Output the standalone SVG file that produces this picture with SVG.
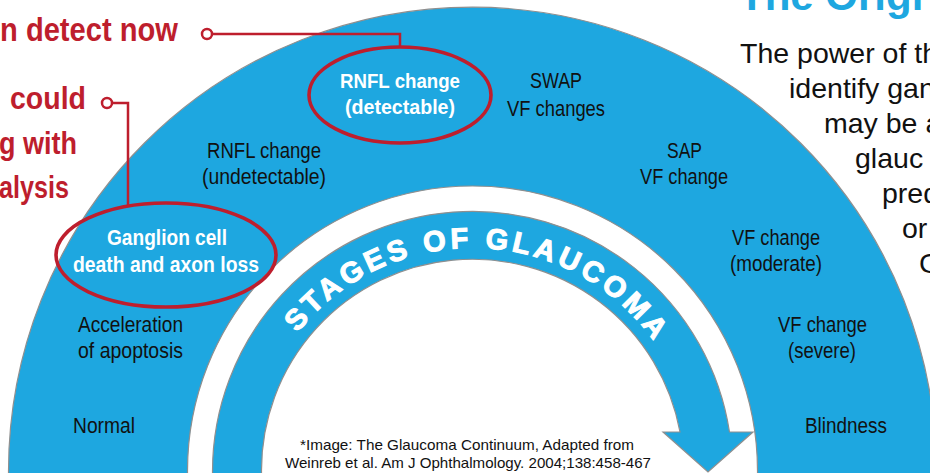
<svg xmlns="http://www.w3.org/2000/svg" width="930" height="473" viewBox="0 0 930 473">
<style>
.band{fill:#1ea7e0;stroke:#8f8f8f;stroke-width:1.2}
.blk{font-family:"Liberation Sans",Arial,sans-serif;font-size:22px;fill:#111;text-anchor:middle}
.wht{font-family:"Liberation Sans",Arial,sans-serif;font-weight:bold;font-size:22px;fill:#fff;text-anchor:middle}
.red{font-family:"Liberation Sans",Arial,sans-serif;font-weight:bold;font-size:32px;fill:#be1e2d;text-anchor:end}
.ell{fill:none;stroke:#be1e2d;stroke-width:3.6}
.conn{fill:none;stroke:#be1e2d;stroke-width:2.5}
.dot{fill:#fff;stroke:#be1e2d;stroke-width:2.5}
.note{font-family:"Liberation Sans",Arial,sans-serif;font-size:15px;fill:#111;text-anchor:middle}
.para{font-family:"Liberation Sans",Arial,sans-serif;font-size:28.5px;fill:#111}
.stg{font-family:"Liberation Sans",Arial,sans-serif;font-weight:bold;font-size:29px;fill:#fff;stroke:#fff;stroke-width:1.1;letter-spacing:4px}
</style>
<defs>
<path id="stgPath" d="M 249.5,471 A 223 223 0 0 1 695.5,471"/>
</defs>

<g id="outer-band">
<path d="M 8.5,480 L 8.5,471 A 464 464 0 0 1 936.5,471 L 936.5,480 L 757.5,480 L 757.5,471 A 285 285 0 0 0 187.5,471 L 187.5,480 Z" fill="#1ea7e0"/>
<path d="M 8.5,480 L 8.5,471 A 464 464 0 0 1 936.5,471 M 757.5,480 L 757.5,471 A 285 285 0 0 0 187.5,471 L 187.5,480" fill="none" stroke="#8f8f8f" stroke-width="1.2"/>
</g>

<g id="stages-arrow">
<path class="band" d="M 212.5,480 L 212.5,471 A 260 260 0 0 1 729.5,432 L 753,432 L 708,472 L 663,432 L 680,432 A 211 211 0 0 0 261.5,471 L 261.5,480 Z"/>
<text class="stg"><textPath href="#stgPath" startOffset="357" text-anchor="middle">STAGES OF GLAUCOMA</textPath></text>
</g>

<g id="connectors">
<circle class="dot" cx="207" cy="34" r="5"/>
<polyline class="conn" points="212,34 400,34 400,46"/>
<circle class="dot" cx="107" cy="103" r="5"/>
<polyline class="conn" points="112,103 128,103 128,205"/>
</g>

<g id="node-normal"><text class="blk" x="104" y="433" textLength="62" lengthAdjust="spacingAndGlyphs">Normal</text></g>
<g id="node-apoptosis">
<text class="blk" x="130.5" y="332" textLength="105" lengthAdjust="spacingAndGlyphs">Acceleration</text>
<text class="blk" x="130.5" y="358" textLength="105" lengthAdjust="spacingAndGlyphs">of apoptosis</text>
</g>
<g id="node-ganglion">
<ellipse class="ell" cx="166" cy="255" rx="110" ry="52"/>
<text class="wht" x="167" y="245" textLength="120" lengthAdjust="spacingAndGlyphs">Ganglion cell</text>
<text class="wht" x="166" y="272" textLength="186" lengthAdjust="spacingAndGlyphs">death and axon loss</text>
</g>
<g id="node-rnfl-undetectable">
<text class="blk" x="264" y="158" textLength="114" lengthAdjust="spacingAndGlyphs">RNFL change</text>
<text class="blk" x="264" y="184" textLength="124" lengthAdjust="spacingAndGlyphs">(undetectable)</text>
</g>
<g id="node-rnfl-detectable">
<ellipse class="ell" cx="400" cy="95" rx="91" ry="48"/>
<text class="wht" style="font-size:21px" x="400" y="88" textLength="120" lengthAdjust="spacingAndGlyphs">RNFL change</text>
<text class="wht" style="font-size:21px" x="400" y="114" textLength="110" lengthAdjust="spacingAndGlyphs">(detectable)</text>
</g>
<g id="node-swap">
<text class="blk" x="556" y="88" textLength="52" lengthAdjust="spacingAndGlyphs">SWAP</text>
<text class="blk" x="556" y="116" textLength="98" lengthAdjust="spacingAndGlyphs">VF changes</text>
</g>
<g id="node-sap">
<text class="blk" x="684.5" y="158" textLength="35" lengthAdjust="spacingAndGlyphs">SAP</text>
<text class="blk" x="684" y="184" textLength="88" lengthAdjust="spacingAndGlyphs">VF change</text>
</g>
<g id="node-moderate">
<text class="blk" x="776" y="245" textLength="88" lengthAdjust="spacingAndGlyphs">VF change</text>
<text class="blk" x="776" y="271" textLength="92" lengthAdjust="spacingAndGlyphs">(moderate)</text>
</g>
<g id="node-severe">
<text class="blk" x="822.5" y="332" textLength="89" lengthAdjust="spacingAndGlyphs">VF change</text>
<text class="blk" x="822" y="358" textLength="68" lengthAdjust="spacingAndGlyphs">(severe)</text>
</g>
<g id="node-blindness"><text class="blk" x="846" y="433" textLength="82" lengthAdjust="spacingAndGlyphs">Blindness</text></g>

<g id="callout-now"><text class="red" style="font-size:34px" x="178" y="41" textLength="178" lengthAdjust="spacingAndGlyphs">n detect now</text></g>
<g id="callout-could">
<text class="red" x="86" y="109" textLength="76" lengthAdjust="spacingAndGlyphs">could</text>
<text class="red" x="77" y="154" textLength="78" lengthAdjust="spacingAndGlyphs">g with</text>
<text class="red" x="69" y="198" textLength="70" lengthAdjust="spacingAndGlyphs">alysis</text>
</g>

<g id="footnote">
<text class="note" x="467" y="450" textLength="334" lengthAdjust="spacingAndGlyphs">*Image: The Glaucoma Continuum, Adapted from</text>
<text class="note" x="468" y="468" textLength="366" lengthAdjust="spacingAndGlyphs">Weinreb et al. Am J Ophthalmology. 2004;138:458-467</text>
</g>

<g id="side-text">
<text x="739" y="10" style="font-family:'Liberation Sans',Arial,sans-serif;font-weight:bold;font-size:42px;fill:#1ea7e0">The Origi</text>
<text class="para" x="740" y="63">The power of th</text>
<text class="para" x="789" y="98">identify gan</text>
<text class="para" x="824" y="133">may be a</text>
<text class="para" x="855" y="168">glauc</text>
<text class="para" x="882" y="203">pred</text>
<text class="para" x="902" y="238">or</text>
<text class="para" x="919" y="273">C</text>
</g>
</svg>
